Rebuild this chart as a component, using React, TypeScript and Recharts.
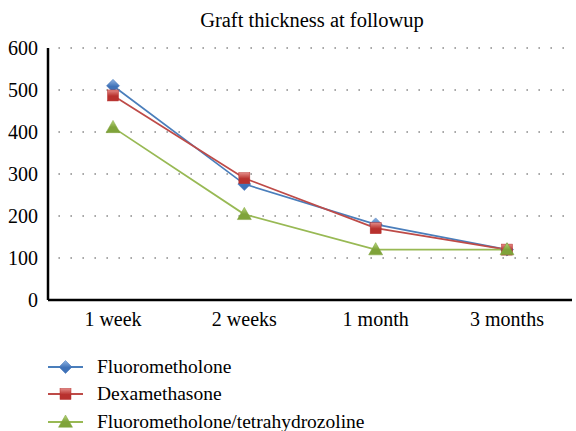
import { LineChart, Line, XAxis, YAxis, CartesianGrid } from "recharts";

const CATEGORIES = ["1 week", "2 weeks", "1 month", "3 months"];
const FLUOROMETHOLONE = [510, 276, 180, 120];
const DEXAMETHASONE = [487, 290, 171, 120];
const FML_THZ = [411, 204, 120, 120];
const Y_TICKS = [0, 100, 200, 300, 400, 500, 600];

const SERIES = [
  { key: "fml", name: "Fluorometholone", line: "#4a7ebb", fill: "#3f72b8", light: "#8fb4e3", shape: "diamond" },
  { key: "dex", name: "Dexamethasone", line: "#be4b48", fill: "#b8312e", light: "#e48a86", shape: "square" },
  { key: "thz", name: "Fluorometholone/tetrahydrozoline", line: "#98b954", fill: "#7fa33a", light: "#b9d77e", shape: "triangle" },
];

const data = CATEGORIES.map((c, i) => ({
  cat: c,
  fml: FLUOROMETHOLONE[i],
  dex: DEXAMETHASONE[i],
  thz: FML_THZ[i],
}));

const FONT = "'Liberation Serif', 'Times New Roman', serif";

function Marker({ cx, cy, shape, fill, light }: { cx: number; cy: number; shape: string; fill: string; light: string }) {
  const id = `g-${shape}`;
  const grad = (
    <defs>
      <linearGradient id={id} x1="0" y1="0" x2="0" y2="1">
        <stop offset="0%" stopColor={light} />
        <stop offset="55%" stopColor={fill} />
        <stop offset="100%" stopColor={fill} />
      </linearGradient>
    </defs>
  );
  if (shape === "diamond") {
    const r = 6.5;
    return (
      <g>
        {grad}
        <polygon points={`${cx},${cy - r} ${cx + r},${cy} ${cx},${cy + r} ${cx - r},${cy}`} fill={`url(#${id})`} stroke={fill} strokeWidth={0.5} />
      </g>
    );
  }
  if (shape === "square") {
    const r = 5.5;
    return (
      <g>
        {grad}
        <rect x={cx - r} y={cy - r} width={r * 2} height={r * 2} fill={`url(#${id})`} stroke={fill} strokeWidth={0.5} />
      </g>
    );
  }
  const r = 7;
  return (
    <g>
      {grad}
      <polygon points={`${cx},${cy - r} ${cx + r},${cy + r * 0.75} ${cx - r},${cy + r * 0.75}`} fill={`url(#${id})`} stroke={fill} strokeWidth={0.5} />
    </g>
  );
}

function LegendBox() {
  return (
    <div style={{ fontFamily: FONT, fontSize: 19.5, color: "#000" }}>
      {SERIES.map((s) => (
        <div key={s.key} style={{ display: "flex", alignItems: "center", height: 27.5 }}>
          <svg width={49} height={20} style={{ flex: "none" }}>
            <line x1={0} y1={10} x2={35} y2={10} stroke={s.line} strokeWidth={2} />
            <Marker cx={17.5} cy={10} shape={s.shape} fill={s.fill} light={s.light} />
          </svg>
          <span style={{ lineHeight: "20px" }}>{s.name}</span>
        </div>
      ))}
    </div>
  );
}

export default function App() {
  return (
    <div style={{ position: "absolute", left: 0, top: 0, width: 576, height: 431, background: "#fff", overflow: "hidden" }}>
      <div
        style={{
          position: "absolute",
          left: 48,
          width: 528,
          top: 7,
          textAlign: "center",
          fontFamily: FONT,
          fontSize: 20.5,
          lineHeight: "26px",
          color: "#000",
        }}
      >
        Graft thickness at followup
      </div>
      <LineChart width={576} height={431} data={data} margin={{ top: 48, right: 4, bottom: 0, left: 0 }}>
        <CartesianGrid vertical={false} horizontalValues={[100, 200, 300, 400, 500, 600]} stroke="#8c8c8c" strokeWidth={1.6} strokeDasharray="1.6 10.4" strokeDashoffset={-10.4} />
        <XAxis
          dataKey="cat"
          padding={{ left: 65, right: 65 }}
          axisLine={{ stroke: "#000", strokeWidth: 2.5 }}
          tickLine={false}
          tick={{ fontFamily: FONT, fontSize: 20, fill: "#000" }}
          tickMargin={6}
          height={131}
        />
        <YAxis
          domain={[0, 600]}
          ticks={Y_TICKS}
          width={48}
          axisLine={{ stroke: "#000", strokeWidth: 2.5 }}
          tickLine={false}
          tick={{ fontFamily: FONT, fontSize: 20, fill: "#000" }}
          tickMargin={4}
        />
        {SERIES.map((s) => (
          <Line
            key={s.key}
            dataKey={s.key}
            name={s.name}
            type="linear"
            stroke={s.line}
            strokeWidth={1.75}
            isAnimationActive={false}
            dot={(p: any) => <Marker key={`${s.key}-${p.index}`} cx={p.cx} cy={p.cy} shape={s.shape} fill={s.fill} light={s.light} />}
            activeDot={false}
          />
        ))}
      </LineChart>
      <div style={{ position: "absolute", left: 48, top: 353 }}>
        <LegendBox />
      </div>
    </div>
  );
}
